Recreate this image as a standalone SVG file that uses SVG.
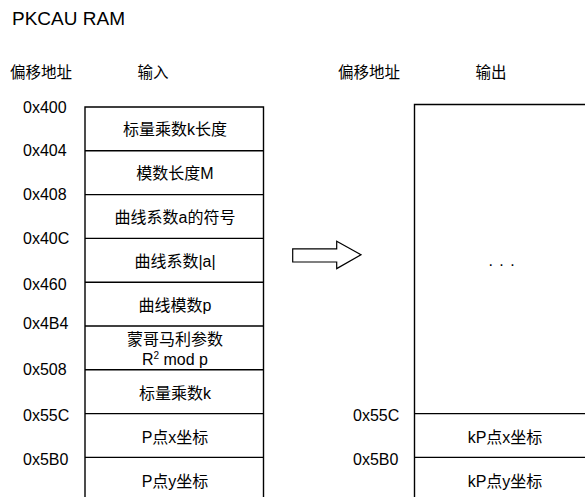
<svg xmlns="http://www.w3.org/2000/svg" width="585" height="497" viewBox="0 0 585 497">
<style>
text{font-family:"Liberation Sans","Noto Sans CJK SC",sans-serif;font-size:16px;fill:#000}
.c{text-anchor:middle}
.ln{stroke:#000;stroke-width:1.4;fill:none}
</style>
<rect width="585" height="497" fill="#fff"/>
<text x="12" y="25" style="font-size:19px">PKCAU RAM</text>
<g id="headers">
<text x="10" y="77.5" style="font-size:15.5px">偏移地址</text>
<text x="153" y="77.5" class="c" style="font-size:15.5px">输入</text>
<text x="338" y="78" style="font-size:15.5px">偏移地址</text>
<text x="491" y="78" class="c" style="font-size:15.5px">输出</text>
</g>
<g id="addr-left">
<text x="23" y="113">0x400</text>
<text x="23" y="155.5">0x404</text>
<text x="23" y="199.5">0x408</text>
<text x="23" y="243.5">0x40C</text>
<text x="23" y="290">0x460</text>
<text x="23" y="328.5">0x4B4</text>
<text x="23" y="375">0x508</text>
<text x="23" y="420.5">0x55C</text>
<text x="23" y="465">0x5B0</text>
</g>
<g id="input-ram">
<path class="ln" d="M85,497 V107 H263.5 V497"/>
<g id="in-k-len"><text x="175" y="134.5" class="c">标量乘数k长度</text></g>
<g id="in-m"><line class="ln" x1="85" y1="150.8" x2="263.5" y2="150.8"/><text x="175" y="178.5" class="c">模数长度M</text></g>
<g id="in-a-sign"><line class="ln" x1="85" y1="194.6" x2="263.5" y2="194.6"/><text x="175" y="222.5" class="c">曲线系数a的符号</text></g>
<g id="in-a-abs"><line class="ln" x1="85" y1="238.4" x2="263.5" y2="238.4"/><text x="175" y="266.5" class="c">曲线系数|a|</text></g>
<g id="in-p"><line class="ln" x1="85" y1="282.2" x2="263.5" y2="282.2"/><text x="175" y="310.5" class="c">曲线模数p</text></g>
<g id="in-r2"><line class="ln" x1="85" y1="326" x2="263.5" y2="326"/><text x="175" y="345" class="c">蒙哥马利参数</text><text x="175" y="365" class="c">R<tspan dy="-6" style="font-size:10px">2</tspan><tspan dy="6"> mod p</tspan></text></g>
<g id="in-k"><line class="ln" x1="85" y1="369.8" x2="263.5" y2="369.8"/><text x="175" y="399" class="c">标量乘数k</text></g>
<g id="in-px"><line class="ln" x1="85" y1="413.6" x2="263.5" y2="413.6"/><text x="175" y="443" class="c">P点x坐标</text></g>
<g id="in-py"><line class="ln" x1="85" y1="457.4" x2="263.5" y2="457.4"/><text x="175" y="487" class="c">P点y坐标</text></g>
</g>
<g id="connectors">
<path d="M292.7,248.8 H336.7 V241.3 L361,254.7 L336.7,268.6 V262 H292.7 Z" fill="#fff" stroke="#000" stroke-width="1.2"/>
</g>
<g id="addr-right">
<text x="353" y="420.5">0x55C</text>
<text x="353" y="465">0x5B0</text>
</g>
<g id="output-ram">
<path class="ln" d="M414.5,497 V104.5 H585"/>
<g id="out-dots"><text x="502" y="266" class="c" style="letter-spacing:1px">. . .</text></g>
<g id="out-kpx"><line class="ln" x1="414.5" y1="413.6" x2="585" y2="413.6"/><text x="505" y="443" class="c">kP点x坐标</text></g>
<g id="out-kpy"><line class="ln" x1="414.5" y1="457.4" x2="585" y2="457.4"/><text x="505" y="487" class="c">kP点y坐标</text></g>
</g>
</svg>
